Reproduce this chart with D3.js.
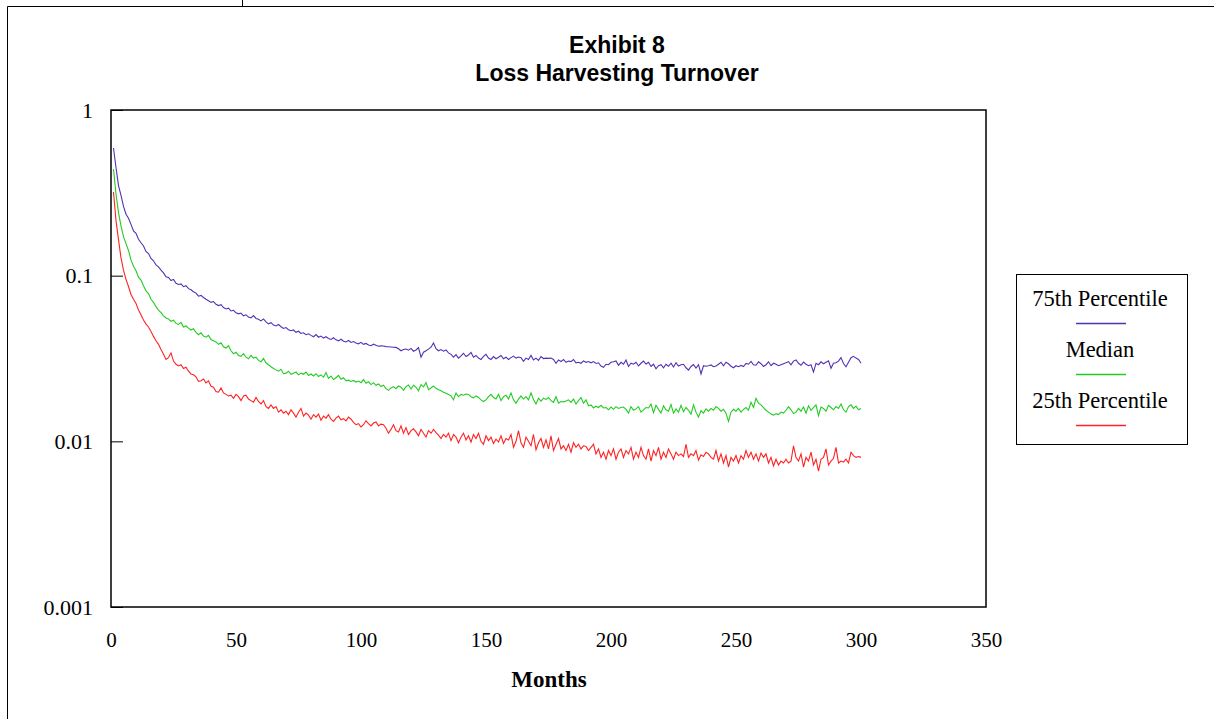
<!DOCTYPE html>
<html>
<head>
	<meta charset="utf-8">
	<title>Exhibit 8</title>
	<style>
	body { margin: 0; background: #fff; }
	svg text { fill: #000; }
	.serif { font-family: "Liberation Serif", "Times New Roman", serif; }
	.sans { font-family: "Liberation Sans", Arial, sans-serif; }
	</style>
	<script type="text/javascript" src="https://cdn.jsdelivr.net/npm/d3@7/dist/d3.min.js"></script>
</head>
<body>

	<script type="text/javascript">

		// Data Set (month 1..300)
		let seriesNames = ['75th Percentile', 'Median', '25th Percentile'];
		let xTicks = [0, 50, 100, 150, 200, 250, 300, 350];
		let yTicks = [1, 0.1, 0.01, 0.001];
		let yTickLabels = ['1', '0.1', '0.01', '0.001'];

		let p75 = [
			0.59, 0.45, 0.35, 0.305, 0.262, 0.235, 0.222, 0.204, 0.186, 0.180,
			0.166, 0.158, 0.151, 0.140, 0.136, 0.127, 0.123, 0.116, 0.113, 0.108,
			0.104, 0.0985, 0.0975, 0.0935, 0.0950, 0.0900, 0.0885, 0.0892, 0.0858, 0.0870,
			0.0835, 0.0822, 0.0800, 0.0785, 0.0752, 0.0760, 0.0738, 0.0720, 0.0705, 0.0690,
			0.0698, 0.0672, 0.0660, 0.0668, 0.0642, 0.0630, 0.0636, 0.0612, 0.0618, 0.0597,
			0.0588, 0.0595, 0.0572, 0.0580, 0.0562, 0.0556, 0.0574, 0.0552, 0.0545, 0.0533,
			0.0548, 0.0526, 0.0512, 0.0520, 0.0503, 0.0497, 0.0508, 0.0492, 0.0480, 0.0486,
			0.0472, 0.0465, 0.0470, 0.0455, 0.0462, 0.0448, 0.0452, 0.0440, 0.0446, 0.0436,
			0.0428, 0.0441, 0.0425, 0.0432, 0.0420, 0.0428, 0.0418, 0.0412, 0.0422, 0.0410,
			0.0404, 0.0413, 0.0402, 0.0398, 0.0406, 0.0395, 0.0400, 0.0392, 0.0388, 0.0396,
			0.0385, 0.0390, 0.0382, 0.0378, 0.0386, 0.0380, 0.0375, 0.0377, 0.0376, 0.0373,
			0.0372, 0.0371, 0.0370, 0.0369, 0.0362, 0.0352, 0.0358, 0.0361, 0.0355, 0.0364,
			0.0350, 0.0356, 0.0368, 0.0322, 0.0345, 0.0352, 0.0360, 0.0370, 0.0392, 0.0362,
			0.0352, 0.0358, 0.0350, 0.0356, 0.0342, 0.0335, 0.0322, 0.0334, 0.0318, 0.0328,
			0.0340, 0.0325, 0.0332, 0.0344, 0.0322, 0.0330, 0.0318, 0.0312, 0.0326, 0.0335,
			0.0318, 0.0312, 0.0325, 0.0315, 0.0322, 0.0330, 0.0315, 0.0322, 0.0312, 0.0320,
			0.0327, 0.0318, 0.0323, 0.0320, 0.0304, 0.0318, 0.0312, 0.0330, 0.0310, 0.0318,
			0.0308, 0.0325, 0.0316, 0.0318, 0.0317, 0.0318, 0.0312, 0.0296, 0.0310, 0.0303,
			0.0312, 0.0300, 0.0305, 0.0303, 0.0312, 0.0298, 0.0300, 0.0296, 0.0306, 0.0300,
			0.0303, 0.0298, 0.0303, 0.0295, 0.0298, 0.0285, 0.0280, 0.0292, 0.0290, 0.0300,
			0.0302, 0.0306, 0.0288, 0.0300, 0.0292, 0.0310, 0.0283, 0.0296, 0.0292, 0.0300,
			0.0285, 0.0296, 0.0305, 0.0293, 0.0300, 0.0283, 0.0292, 0.0274, 0.0286, 0.0290,
			0.0278, 0.0292, 0.0284, 0.0296, 0.0281, 0.0298, 0.0285, 0.0290, 0.0292, 0.0278,
			0.0269, 0.0283, 0.0291, 0.0277, 0.0290, 0.0255, 0.0286, 0.0284, 0.0286, 0.0289,
			0.0282, 0.0285, 0.0292, 0.0300, 0.0286, 0.0300, 0.0294, 0.0284, 0.0278, 0.0286,
			0.0282, 0.0287, 0.0283, 0.0295, 0.0292, 0.0304, 0.0290, 0.0288, 0.0302, 0.0294,
			0.0283, 0.0290, 0.0302, 0.0286, 0.0296, 0.0292, 0.0286, 0.0290, 0.0294, 0.0298,
			0.0303, 0.0290, 0.0305, 0.0310, 0.0296, 0.0288, 0.0301, 0.0292, 0.0286, 0.0290,
			0.0262, 0.0296, 0.0290, 0.0302, 0.0294, 0.0300, 0.0306, 0.0276, 0.0296, 0.0298,
			0.0305, 0.0320, 0.0295, 0.0282, 0.0300, 0.0320, 0.0326, 0.0318, 0.0312, 0.0296
		];

		let median = [
			0.44, 0.31, 0.24, 0.20, 0.172, 0.156, 0.142, 0.124, 0.114, 0.107,
			0.098, 0.094, 0.087, 0.081, 0.078, 0.072, 0.069, 0.065, 0.062, 0.0598,
			0.0572, 0.0555, 0.0548, 0.0530, 0.0538, 0.0515, 0.0508, 0.0522, 0.0490, 0.0497,
			0.0482, 0.0470, 0.0478, 0.0455, 0.0440, 0.0452, 0.0432, 0.0425, 0.0437, 0.0412,
			0.0405, 0.0398, 0.0385, 0.0394, 0.0372, 0.0366, 0.0378, 0.0352, 0.0338, 0.0345,
			0.0330, 0.0326, 0.0338, 0.0322, 0.0315, 0.0330, 0.0318, 0.0322, 0.0308, 0.0302,
			0.0316, 0.0298, 0.0290, 0.0282, 0.0275, 0.0270, 0.0265, 0.0272, 0.0256, 0.0258,
			0.0265, 0.0254, 0.0258, 0.0262, 0.0252, 0.0258, 0.0254, 0.0262, 0.0250, 0.0255,
			0.0248, 0.0256, 0.0246, 0.0252, 0.0244, 0.0260, 0.0240, 0.0248, 0.0236, 0.0242,
			0.0250, 0.0237, 0.0242, 0.0232, 0.0234, 0.0230, 0.0233, 0.0228, 0.0231, 0.0226,
			0.0236, 0.0224, 0.0229, 0.0220, 0.0226, 0.0218, 0.0222, 0.0214, 0.0218, 0.0208,
			0.0203, 0.0210, 0.0214, 0.0208, 0.0216, 0.0212, 0.0203, 0.0214, 0.0219, 0.0207,
			0.0218, 0.0212, 0.0202, 0.0220, 0.0213, 0.0226, 0.0205, 0.0210, 0.0216, 0.0209,
			0.0205, 0.0202, 0.0198, 0.0195, 0.0192, 0.0188, 0.0178, 0.0196, 0.0186, 0.0192,
			0.0190, 0.0193, 0.0192, 0.0186, 0.0183, 0.0188, 0.0184, 0.0178, 0.0174, 0.0178,
			0.0186, 0.0192, 0.0184, 0.0180, 0.0192, 0.0176, 0.0186, 0.0190, 0.0180, 0.0196,
			0.0178, 0.0170, 0.0180, 0.0188, 0.0180, 0.0186, 0.0178, 0.0196, 0.0179, 0.0168,
			0.0182, 0.0175, 0.0182, 0.0179, 0.0184, 0.0176, 0.0172, 0.0186, 0.0170, 0.0174,
			0.0173, 0.0175, 0.0178, 0.0172, 0.0180, 0.0168, 0.0176, 0.0184, 0.0170, 0.0178,
			0.0164, 0.0166, 0.0159, 0.0163, 0.0160, 0.0165, 0.0159, 0.0160, 0.0155, 0.0161,
			0.0156, 0.0162, 0.0158, 0.0160, 0.0161, 0.0156, 0.0148, 0.0162, 0.0154, 0.0157,
			0.0162, 0.0150, 0.0155, 0.0160, 0.0159, 0.0168, 0.0149, 0.0165, 0.0156, 0.0148,
			0.0164, 0.0155, 0.0152, 0.0167, 0.0148, 0.0157, 0.0150, 0.0165, 0.0151, 0.0160,
			0.0154, 0.0146, 0.0166, 0.0150, 0.0140, 0.0153, 0.0148, 0.0157, 0.0152, 0.0158,
			0.0154, 0.0162, 0.0158, 0.0152, 0.0156, 0.0148, 0.0132, 0.0150, 0.0156, 0.0152,
			0.0158, 0.0150, 0.0156, 0.0160, 0.0154, 0.0172, 0.0160, 0.0182, 0.0170, 0.0166,
			0.0160, 0.0154, 0.0150, 0.0146, 0.0144, 0.0147, 0.0145, 0.0150, 0.0148, 0.0154,
			0.0162, 0.0155, 0.0147, 0.0150, 0.0158, 0.0152, 0.0161, 0.0148, 0.0164, 0.0154,
			0.0160, 0.0166, 0.0143, 0.0161, 0.0158, 0.0152, 0.0165, 0.0160, 0.0155, 0.0162,
			0.0158, 0.0168, 0.0155, 0.0150, 0.0162, 0.0166, 0.0158, 0.0163, 0.0155, 0.0158
		];

		let p25 = [
			0.32, 0.215, 0.165, 0.128, 0.108, 0.095, 0.086, 0.077, 0.072, 0.068,
			0.062, 0.058, 0.054, 0.051, 0.049, 0.046, 0.043, 0.0405, 0.0385, 0.0358,
			0.0335, 0.0312, 0.0320, 0.0342, 0.0305, 0.0292, 0.0285, 0.0290, 0.0275, 0.0280,
			0.0265, 0.0255, 0.0252, 0.0245, 0.0230, 0.0232, 0.0238, 0.0225, 0.0232, 0.0215,
			0.0212, 0.0200, 0.0198, 0.0210, 0.0196, 0.0192, 0.0188, 0.0190, 0.0182, 0.0192,
			0.0186, 0.0176, 0.0188, 0.0190, 0.0180, 0.0176, 0.0172, 0.0184, 0.0174, 0.0168,
			0.0176, 0.0162, 0.0158, 0.0166, 0.0158, 0.0162, 0.0150, 0.0155, 0.0148, 0.0152,
			0.0145, 0.0155, 0.0148, 0.0140, 0.0150, 0.0158, 0.0142, 0.0148, 0.0144, 0.0136,
			0.0145, 0.0140, 0.0146, 0.0134, 0.0142, 0.0138, 0.0145, 0.0136, 0.0132, 0.0138,
			0.0142, 0.0135, 0.0137, 0.0133, 0.0140, 0.0136, 0.0130, 0.0126, 0.0128, 0.0122,
			0.0126, 0.0133, 0.0128, 0.0124, 0.0129, 0.0131, 0.0124, 0.0127, 0.0126, 0.0120,
			0.0112, 0.0118, 0.0126, 0.0116, 0.0114, 0.0124, 0.0112, 0.0121, 0.0110, 0.0116,
			0.0119, 0.0114, 0.0108, 0.0118, 0.0112, 0.0106, 0.0116, 0.0112, 0.0118, 0.0113,
			0.0109, 0.0104, 0.0110, 0.0106, 0.0112, 0.0101, 0.0110, 0.0106, 0.0098, 0.0106,
			0.0112, 0.0102, 0.0108, 0.0099, 0.0110, 0.0104, 0.0112, 0.0100, 0.0096, 0.0108,
			0.0101, 0.0106, 0.0097, 0.0103, 0.0099, 0.0108, 0.0097, 0.0104, 0.0102, 0.0110,
			0.0092, 0.0100, 0.0116, 0.0098, 0.0092, 0.0106, 0.0100, 0.0094, 0.0110, 0.0089,
			0.0098, 0.0104, 0.0092, 0.0102, 0.0090, 0.0108, 0.0088, 0.0096, 0.0104, 0.0090,
			0.0094, 0.0088, 0.0096, 0.0086, 0.0098, 0.0092, 0.0096, 0.0090, 0.0094, 0.0093,
			0.0088, 0.0092, 0.0096, 0.0084, 0.0090, 0.0080, 0.0086, 0.0078, 0.0088, 0.0082,
			0.0090, 0.0078, 0.0086, 0.0090, 0.0080, 0.0088, 0.0084, 0.0092, 0.0078, 0.0086,
			0.0080, 0.0092, 0.0082, 0.0078, 0.0090, 0.0076, 0.0088, 0.0082, 0.0092, 0.0078,
			0.0086, 0.0080, 0.0090, 0.0084, 0.0078, 0.0086, 0.0082, 0.0084, 0.0081, 0.0096,
			0.0080, 0.0084, 0.0082, 0.0088, 0.0077, 0.0083, 0.0081, 0.0086, 0.0084, 0.0080,
			0.0078, 0.0088, 0.0076, 0.0084, 0.0074, 0.0082, 0.0070, 0.0080, 0.0076, 0.0082,
			0.0074, 0.0082, 0.0078, 0.0088, 0.0080, 0.0086, 0.0078, 0.0084, 0.0076, 0.0085,
			0.0080, 0.0084, 0.0074, 0.0080, 0.0071, 0.0078, 0.0072, 0.0076, 0.0074, 0.0078,
			0.0074, 0.0076, 0.0094, 0.0080, 0.0076, 0.0084, 0.0070, 0.0080, 0.0076, 0.0086,
			0.0072, 0.0078, 0.0066, 0.0078, 0.0080, 0.0090, 0.0072, 0.0076, 0.0079, 0.0092,
			0.0074, 0.0076, 0.0075, 0.0078, 0.0074, 0.0086, 0.0082, 0.0080, 0.0081, 0.0080
		];

		let color = ['#5232b4', '#22cc22', '#ff2222'];
		let series = [p75, median, p25];

		let wsvg = 1214, hsvg = 719;
		// 繪圖區邊界
		let plot = { left: 111, right: 986, top: 110, bottom: 607 };

		let svg = d3.select('body').append('svg')
					.attr('width', wsvg)
					.attr('height', hsvg);

		// 外框 (頁面邊線)
		svg.append('path')
			.attr('d', 'M7.5,719V6.5H1214 M242.5,0V6.5')
			.attr('fill', 'none')
			.attr('stroke', '#000')
			.attr('stroke-width', 1);

		// 標題
		let title = svg.append('text').attr('class', 'sans')
					.attr('text-anchor', 'middle')
					.style('font-size', '23px')
					.style('font-weight', 'bold');
		title.append('tspan').attr('x', 617).attr('y', 53).text('Exhibit 8');
		title.append('tspan').attr('x', 617).attr('y', 81).text('Loss Harvesting Turnover');

		let xScale = d3.scaleLinear().domain([0, 350]).range([plot.left, plot.right]);
		let yScale = d3.scaleLog().domain([0.001, 1]).range([plot.bottom, plot.top]);

		// Y軸 (刻度朝內)
		let yAxis = d3.axisLeft(yScale)
					.tickValues(yTicks)
					.tickFormat(function(d, i) { return yTickLabels[i]; })
					.tickSizeInner(-12)
					.tickSizeOuter(0)
					.tickPadding(18);
		let lAxis = svg.append('g')
					.attr('transform', 'translate(' + plot.left + ',0)')
					.call(yAxis);
		lAxis.select('.domain').remove();
		lAxis.selectAll('line').attr('stroke', '#000');
		lAxis.selectAll('text').attr('class', 'serif').style('font-size', '22px');

		// X軸 (無刻度線)
		let xAxis = d3.axisBottom(xScale)
					.tickValues(xTicks)
					.tickSize(0)
					.tickPadding(25);
		let bAxis = svg.append('g')
					.attr('transform', 'translate(0,' + plot.bottom + ')')
					.call(xAxis);
		bAxis.select('.domain').remove();
		bAxis.selectAll('text').attr('class', 'serif').style('font-size', '21px');

		svg.append('text').attr('class', 'serif')
			.attr('x', 549).attr('y', 687)
			.attr('text-anchor', 'middle')
			.style('font-size', '23px')
			.style('font-weight', 'bold')
			.text('Months');

		// 折線
		let varLine = d3.line()
			.x(function(d, i) { return xScale(i + 1); })
			.y(function(d) { return yScale(d); });

		series.forEach(function(s, i) {
			svg.append('path')
				.datum(s)
				.attr('d', varLine)
				.style('fill', 'none')
				.style('stroke', color[i])
				.style('stroke-width', 1.1);
		});

		// 繪圖區框線
		svg.append('rect')
			.attr('x', plot.left).attr('y', plot.top)
			.attr('width', plot.right - plot.left)
			.attr('height', plot.bottom - plot.top)
			.attr('fill', 'none')
			.attr('stroke', '#000')
			.attr('stroke-width', 1.5);

		// 圖例
		let legend = svg.append('g').attr('transform', 'translate(1016,274)');
		legend.append('rect')
			.attr('x', 0.5).attr('y', 0.5)
			.attr('width', 171).attr('height', 170)
			.attr('fill', '#fff')
			.attr('stroke', '#000')
			.attr('stroke-width', 1);
		seriesNames.forEach(function(name, i) {
			legend.append('text').attr('class', 'serif')
				.attr('x', 84).attr('y', 32 + i * 51)
				.attr('text-anchor', 'middle')
				.style('font-size', '22.5px')
				.text(name);
			legend.append('line')
				.attr('x1', 60).attr('x2', 110)
				.attr('y1', 49.5 + i * 51).attr('y2', 49.5 + i * 51)
				.style('stroke', color[i])
				.style('stroke-width', 1.5);
		});

	</script>

</body>
</html>
